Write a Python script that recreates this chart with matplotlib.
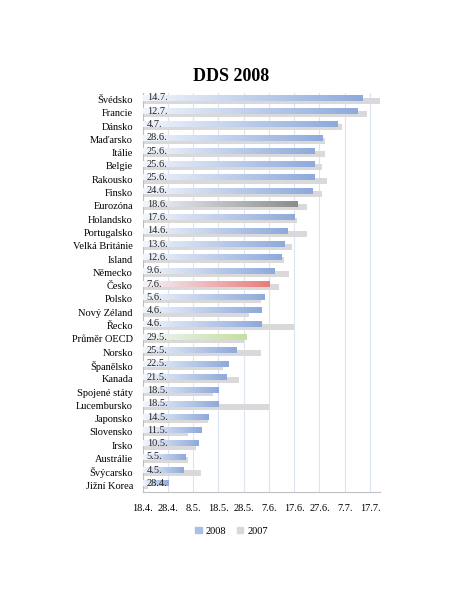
import datetime as dt
import numpy as np
import matplotlib.pyplot as plt
from matplotlib.colors import LinearSegmentedColormap
from matplotlib.patches import Patch

countries = ['Švédsko', 'Francie', 'Dánsko', 'Maďarsko', 'Itálie', 'Belgie', 'Rakousko',
             'Finsko', 'Eurozóna', 'Holandsko', 'Portugalsko', 'Velká Británie', 'Island',
             'Německo', 'Česko', 'Polsko', 'Nový Zéland', 'Řecko', 'Průměr OECD', 'Norsko',
             'Španělsko', 'Kanada', 'Spojené státy', 'Lucembursko', 'Japonsko', 'Slovensko',
             'Irsko', 'Austrálie', 'Švýcarsko', 'Jižní Korea']
dds_2008 = ['14.7.', '12.7.', '4.7.', '28.6.', '25.6.', '25.6.', '25.6.', '24.6.', '18.6.',
            '17.6.', '14.6.', '13.6.', '12.6.', '9.6.', '7.6.', '5.6.', '4.6.', '4.6.',
            '29.5.', '25.5.', '22.5.', '21.5.', '18.5.', '18.5.', '14.5.', '11.5.', '10.5.',
            '5.5.', '4.5.', '28.4.']
dds_2007 = ['21.7.', '16.7.', '6.7.', '29.6.', '29.6.', '28.6.', '30.6.', '28.6.', '22.6.',
            '18.6.', '22.6.', '16.6.', '13.6.', '15.6.', '11.6.', '4.6.', '30.5.', '17.6.',
            '28.5.', '4.6.', '20.5.', '26.5.', '16.5.', '7.6.', '14.5.', '6.5.', '9.5.',
            '6.5.', '11.5.', '20.4.']
special = {'Eurozóna': '#8c8c8c', 'Česko': '#e87c7c', 'Průměr OECD': '#c3df9f'}


def to_day(s):
    d, m = [int(p) for p in s.strip('.').split('.')]
    return (dt.date(2008, m, d) - dt.date(2008, 4, 18)).days


base = dt.date(2008, 4, 18)
v08 = np.array([to_day(s) for s in dds_2008])
v07 = np.array([to_day(s) for s in dds_2007])
y = np.arange(len(countries))

plt.rcParams['font.family'] = ['Liberation Serif', 'DejaVu Serif']

fig = plt.figure(figsize=(4.63, 5.99), dpi=100)
ax = fig.add_axes([0.308, 0.179, 0.513, 0.666])

ax.barh(y + 0.1, v07, height=0.45, color='#d9d9d9', zorder=2)
bars = ax.barh(y - 0.12, v08, height=0.42, color='none', zorder=3)

grad = np.linspace(0, 1, 256).reshape(1, -1)
for name, b, lab in zip(countries, bars, dds_2008):
    end = special.get(name, '#8eaadb')
    cmap = LinearSegmentedColormap.from_list('g', ['#f2f5fb', end])
    x0, y0, w, h = b.get_x(), b.get_y(), b.get_width(), b.get_height()
    ax.imshow(grad, cmap=cmap, aspect='auto', extent=[x0, x0 + w, y0 + h, y0],
              zorder=3, interpolation='bicubic')
    ax.text(1.6, y0 + h / 2, lab, va='center', ha='left', fontsize=7.5, color='#222222', zorder=4)

ax.set_xlim(0, 94)
ax.set_ylim(len(countries) - 0.5, -0.5)
ticks = np.arange(0, 91, 10)
ax.set_xticks(ticks)
ax.set_xticklabels([f'{(base + dt.timedelta(days=int(t))).day}.{(base + dt.timedelta(days=int(t))).month}.'
                    for t in ticks])
ax.set_yticks(y)
ax.set_yticklabels(countries)
ax.tick_params(axis='x', length=0, pad=9, labelsize=7.5)
ax.tick_params(axis='y', length=0, pad=7, labelsize=7.5)
ax.grid(axis='x', color='#dbe5f1', lw=0.8, zorder=0)
ax.set_axisbelow(True)
for s in ['top', 'right']:
    ax.spines[s].set_visible(False)
ax.spines['left'].set_color('#bfbfbf')
ax.spines['bottom'].set_color('#bfbfbf')

fig.text(0.5, 0.872, 'DDS 2008', ha='center', va='center', fontsize=13, fontweight='bold')

handles = [Patch(color='#a9bfe6', label='2008'), Patch(color='#d9d9d9', label='2007')]
fig.legend(handles=handles, loc='center', bbox_to_anchor=(0.5, 0.113), ncol=2, frameon=False,
           fontsize=7.5, handlelength=0.6, handleheight=0.6, handletextpad=0.4, columnspacing=1.0)

fig.savefig('out.png', dpi=100)
